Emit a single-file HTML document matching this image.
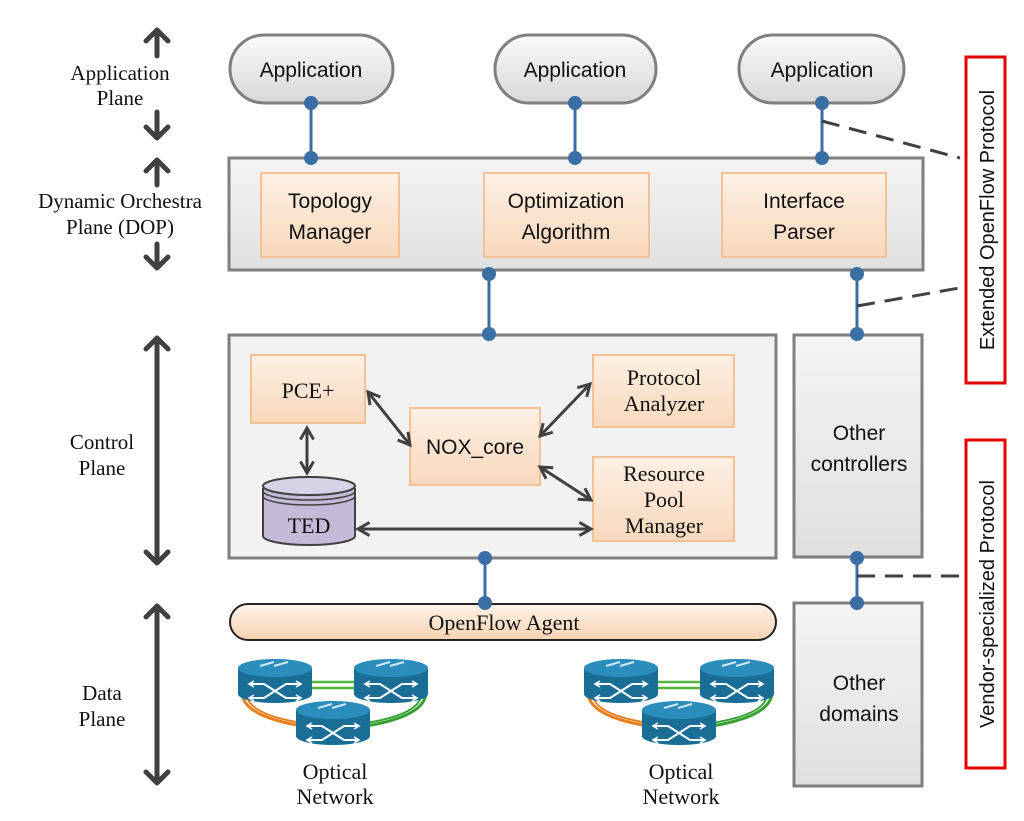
<!DOCTYPE html>
<html><head><meta charset="utf-8"><style>
html,body{margin:0;padding:0;background:#fff;width:1024px;height:821px;overflow:hidden}
.s{font-family:"Liberation Sans",sans-serif}
.t{font-family:"Liberation Serif",serif}
</style></head><body>
<svg width="1024" height="821" viewBox="0 0 1024 821" xmlns="http://www.w3.org/2000/svg">
<defs>
<linearGradient id="gp" x1="0" y1="0" x2="0" y2="1"><stop offset="0" stop-color="#fafafa"/><stop offset="1" stop-color="#d8d8d8"/></linearGradient>
<linearGradient id="gb" x1="0" y1="0" x2="0" y2="1"><stop offset="0" stop-color="#f4f4f4"/><stop offset="1" stop-color="#e0e0e0"/></linearGradient>
<linearGradient id="go" x1="0" y1="0" x2="0" y2="1"><stop offset="0" stop-color="#fdf0e4"/><stop offset="1" stop-color="#f8d8bc"/></linearGradient>
<linearGradient id="gof" x1="0" y1="0" x2="0" y2="1"><stop offset="0" stop-color="#fdf3ea"/><stop offset="1" stop-color="#f6d2b0"/></linearGradient>
<marker id="bh" viewBox="0 0 10 10" refX="8" refY="5" markerWidth="5.5" markerHeight="5.5" orient="auto-start-reverse"><path d="M1,1 L8,5 L1,9" fill="none" stroke="#404040" stroke-width="1.8"/></marker>
<g id="sw">
<path d="M0,8 v26 a37,9 0 0 0 74,0 v-26" fill="#1a6e96"/>
<ellipse cx="37" cy="8" rx="37" ry="9" fill="#2b8dbb"/>
<path d="M22,6 l14,-4 M36,6 l14,-4" stroke="#cfe8f4" stroke-width="2"/>
<path d="M12,24 h14 l22,14 h14 M12,38 h14 l22,-14 h14" stroke="#fff" stroke-width="2" fill="none"/>
<path d="M16,21 l-5,3 l5,3 M58,21 l5,3 l-5,3 M16,35 l-5,3 l5,3 M58,35 l5,3 l-5,3" stroke="#fff" stroke-width="1.6" fill="none"/>
</g>
<g id="net">
<path d="M4,34 q0,24 60,34" stroke="#e87f1e" stroke-width="3" fill="none"/>
<path d="M9,36 q0,20 55,29" stroke="#e87f1e" stroke-width="2" fill="none"/>
<path d="M188,34 q0,24 -60,34" stroke="#35a030" stroke-width="3" fill="none"/>
<path d="M183,36 q0,20 -55,29" stroke="#35a030" stroke-width="2" fill="none"/>
<path d="M74,24 h42 M74,30 h42" stroke="#57b43a" stroke-width="2.5"/>
<use href="#sw" x="0" y="2"/>
<use href="#sw" x="116" y="2"/>
<use href="#sw" x="58" y="44"/>
</g>
</defs>

<g stroke="#404040" stroke-width="5" fill="none" stroke-linecap="round" stroke-linejoin="round">
<path d="M157,56 V30 M146,41 L157,30 L168,41"/>
<path d="M157,112 V138 M146,127 L157,138 L168,127"/>
<path d="M157,185 V160 M146,171 L157,160 L168,171"/>
<path d="M157,244 V268 M146,257 L157,268 L168,257"/>
<path d="M157,338 V563 M146,349 L157,338 L168,349 M146,552 L157,563 L168,552"/>
<path d="M157,606 V783 M146,617 L157,606 L168,617 M146,772 L157,783 L168,772"/>
</g>
<g class="t" font-size="21" fill="#111" text-anchor="middle">
<text x="120" y="80">Application</text><text x="120" y="105">Plane</text>
<text x="120" y="208">Dynamic Orchestra</text><text x="120" y="234">Plane (DOP)</text>
<text x="102" y="449">Control</text><text x="102" y="475">Plane</text>
<text x="102" y="700">Data</text><text x="102" y="726">Plane</text>
</g>

<g stroke="#7f7f7f" stroke-width="3" fill="url(#gp)">
<rect x="230" y="35" width="163" height="68" rx="34"/>
<rect x="495" y="35" width="161" height="68" rx="34"/>
<rect x="739" y="35" width="165" height="68" rx="34"/>
</g>
<g class="s" font-size="21" fill="#111" text-anchor="middle">
<text x="311" y="77">Application</text><text x="575" y="77">Application</text><text x="822" y="77">Application</text>
</g>

<rect x="229" y="158" width="694" height="112" fill="url(#gb)" stroke="#7f7f7f" stroke-width="3"/>
<g fill="url(#go)" stroke="#f4c197" stroke-width="2">
<rect x="261" y="173" width="138" height="84"/><rect x="484" y="173" width="165" height="84"/><rect x="722" y="173" width="164" height="84"/>
</g>
<g class="s" font-size="21" fill="#111" text-anchor="middle">
<text x="330" y="208">Topology</text><text x="330" y="239">Manager</text>
<text x="566" y="208">Optimization</text><text x="566" y="239">Algorithm</text>
<text x="804" y="208">Interface</text><text x="804" y="239">Parser</text>
</g>

<rect x="229" y="335" width="547" height="223" fill="#f2f2f2" stroke="#7f7f7f" stroke-width="3"/>
<rect x="794" y="335" width="128" height="222" fill="url(#gb)" stroke="#7f7f7f" stroke-width="3"/>
<rect x="794" y="603" width="128" height="183" fill="url(#gb)" stroke="#7f7f7f" stroke-width="3"/>
<g class="s" font-size="21" fill="#111" text-anchor="middle">
<text x="859" y="440">Other</text><text x="859" y="471">controllers</text>
<text x="859" y="690">Other</text><text x="859" y="721">domains</text>
</g>
<g fill="url(#go)" stroke="#f4c197" stroke-width="2">
<rect x="251" y="355" width="114" height="68"/>
<rect x="410" y="408" width="130" height="77"/>
<rect x="593" y="355" width="141" height="72"/>
<rect x="593" y="457" width="141" height="84"/>
</g>
<g class="t" font-size="22" fill="#111" text-anchor="middle">
<text x="308" y="398">PCE+</text>
<text x="664" y="385">Protocol</text><text x="664" y="411">Analyzer</text>
<text x="664" y="481">Resource</text><text x="664" y="507">Pool</text><text x="664" y="533">Manager</text>
</g>
<text x="475" y="454" class="s" font-size="21" fill="#111" text-anchor="middle">NOX_core</text>
<path d="M263,488 V536 a46,9 0 0 0 92,0 V488" fill="#c3bbd8" stroke="#404040" stroke-width="2"/>
<ellipse cx="309" cy="486" rx="46" ry="9" fill="#d8d2e6" stroke="#404040" stroke-width="2"/>
<path d="M263,491 a46,9 0 0 0 92,0 M263,496 a46,9 0 0 0 92,0" fill="none" stroke="#404040" stroke-width="1.5"/>
<text x="309" y="533" class="t" font-size="22" fill="#111" text-anchor="middle">TED</text>
<g stroke="#404040" stroke-width="3" fill="none" marker-start="url(#bh)" marker-end="url(#bh)">
<line x1="307" y1="428" x2="307" y2="473"/>
<line x1="368" y1="392" x2="410" y2="445"/>
<line x1="540" y1="436" x2="590" y2="384"/>
<line x1="540" y1="467" x2="591" y2="500"/>
<line x1="358" y1="529" x2="591" y2="529"/>
</g>

<rect x="230" y="604" width="546" height="36" rx="18" fill="url(#gof)" stroke="#222" stroke-width="2"/>
<text x="504" y="630" class="t" font-size="22" fill="#111" text-anchor="middle">OpenFlow Agent</text>

<use href="#net" x="238" y="658"/>
<use href="#net" x="584" y="658"/>
<g class="t" font-size="22" fill="#111" text-anchor="middle">
<text x="335" y="779">Optical</text><text x="335" y="804">Network</text>
<text x="681" y="779">Optical</text><text x="681" y="804">Network</text>
</g>

<g stroke="#3a6ea5" stroke-width="3">
<line x1="311" y1="103" x2="311" y2="158"/><line x1="575" y1="103" x2="575" y2="158"/><line x1="822" y1="103" x2="822" y2="158"/>
<line x1="489" y1="273" x2="489" y2="334"/><line x1="857" y1="273" x2="857" y2="335"/>
<line x1="485" y1="558" x2="485" y2="603"/><line x1="857" y1="557" x2="857" y2="603"/>
</g>
<g fill="#3a6ea5">
<circle cx="311" cy="103" r="7"/><circle cx="311" cy="158" r="7"/>
<circle cx="575" cy="103" r="7"/><circle cx="575" cy="158" r="7"/>
<circle cx="822" cy="103" r="7"/><circle cx="822" cy="158" r="7"/>
<circle cx="489" cy="274" r="7"/><circle cx="489" cy="334" r="7"/>
<circle cx="857" cy="274" r="7"/><circle cx="857" cy="334" r="7"/>
<circle cx="485" cy="558" r="7"/><circle cx="485" cy="603" r="7"/>
<circle cx="857" cy="558" r="7"/><circle cx="857" cy="603" r="7"/>
</g>
<g stroke="#404040" stroke-width="3" stroke-dasharray="18,10" fill="none">
<line x1="822" y1="121" x2="960" y2="158"/>
<line x1="857" y1="306" x2="965" y2="287"/>
<line x1="857" y1="576" x2="965" y2="576"/>
</g>

<rect x="966" y="57" width="39" height="326" fill="#fff" stroke="#e60000" stroke-width="3"/>
<rect x="966" y="440" width="39" height="328" fill="#fff" stroke="#e60000" stroke-width="3"/>
<g class="s" font-size="20" fill="#111" text-anchor="middle">
<text transform="translate(994,220) rotate(-90)">Extended OpenFlow Protocol</text>
<text transform="translate(994,604) rotate(-90)">Vendor-specialized Protocol</text>
</g>
</svg>
</body></html>
